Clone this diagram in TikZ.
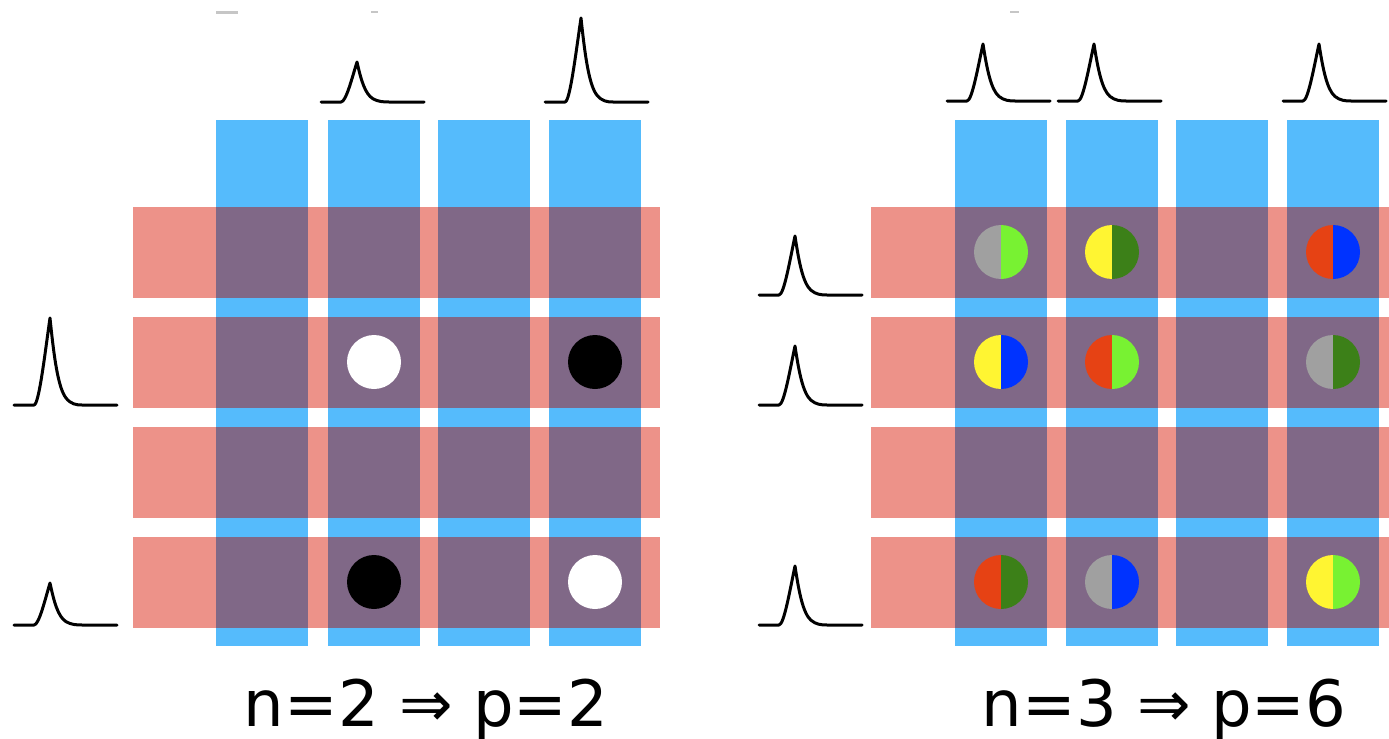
\documentclass[tikz,border=0pt]{standalone}
\usepackage{fontspec}
\newfontfamily\eqfont{DejaVu Sans}
\definecolor{colblue}{RGB}{85,187,252}
\definecolor{rowred}{RGB}{237,146,137}
\definecolor{cross}{RGB}{128,104,135}
\definecolor{dgrey}{RGB}{160,160,160}
\definecolor{dlime}{RGB}{120,242,50}
\definecolor{dgreen}{RGB}{60,128,24}
\definecolor{dyellow}{RGB}{255,245,50}
\definecolor{dred}{RGB}{230,66,20}
\definecolor{dblue}{RGB}{0,51,255}
\tikzset{
  peakline/.style={line width=1.5pt, line join=round, line cap=round},
  pics/peak/.style={code={
    \draw[peakline] (0,0) -- (20,0) .. controls (25,0) and (31,-0.6*#1) .. (36,-#1)
      .. controls (40,-0.55*#1) and (44,-0.2*#1) .. (52,-0.08*#1)
      .. controls (57,-0.01*#1) and (62,0) .. (68,0) -- (103,0);
  }},
  eqtext/.style={anchor=base, font=\eqfont\fontsize{32}{38}\selectfont},
}
\begin{document}
\begin{tikzpicture}[x=0.5pt, y=-0.5pt]
  \useasboundingbox (0,0) rectangle (1389,739);
  \fill[dgrey!60] (216,11) rectangle (238,14);
  \fill[dgrey!60] (371,11) rectangle (378,13);
  \fill[dgrey!60] (1010,11) rectangle (1019,13);
  \foreach \x in {216,327.5,438,548.5}{
    \fill[colblue] (\x,120) rectangle ++(92,526);
    \foreach \y in {207,317,427,537}
      \fill[rowred] (133,\y) rectangle (660,\y+91);}
  \foreach \x in {955,1066,1176,1287}{
    \fill[colblue] (\x,120) rectangle ++(92,526);
    \foreach \y in {207,317,427,537}
      \fill[rowred] (871,\y) rectangle (1389,\y+91);}
  \foreach \x in {216,327.5,438,548.5,955,1066,1176,1287}
    \foreach \y in {207,317,427,537}
      \fill[cross] (\x,\y) rectangle ++(92,91);
  \fill[white] (374,362) circle[radius=27];
  \fill[black] (595,362) circle[radius=27];
  \fill[black] (374,582) circle[radius=27];
  \fill[white] (595,582) circle[radius=27];
  \foreach \cx/\cy/\cl/\cr in {1001/252/dgrey/dlime, 1112/252/dyellow/dgreen, 1333/252/dred/dblue,
      1001/362/dyellow/dblue, 1112/362/dred/dlime, 1333/362/dgrey/dgreen,
      1001/582/dred/dgreen, 1112/582/dgrey/dblue, 1333/582/dyellow/dlime}{
    \fill[\cl] (\cx,\cy+27) arc[start angle=90, end angle=270, radius=27] -- cycle;
    \fill[\cr] (\cx,\cy-27) arc[start angle=-90, end angle=90, radius=27] -- cycle;}
  \pic at (321,102) {peak=40};
  \pic at (545,102) {peak=84};
  \pic at (14,405) {peak=87};
  \pic at (14,625) {peak=42};
  \pic at (947,101) {peak=57};
  \pic at (1058,101) {peak=57};
  \pic at (1283,101) {peak=57};
  \pic at (759,295) {peak=59};
  \pic at (759,405) {peak=59};
  \pic at (759,625) {peak=59};
  \node[eqtext] (eqleft) at (426,726) {n=2 ⇒ p=2};
  \node[eqtext] (eqright) at (1164,726) {n=3 ⇒ p=6};
\end{tikzpicture}
\end{document}
